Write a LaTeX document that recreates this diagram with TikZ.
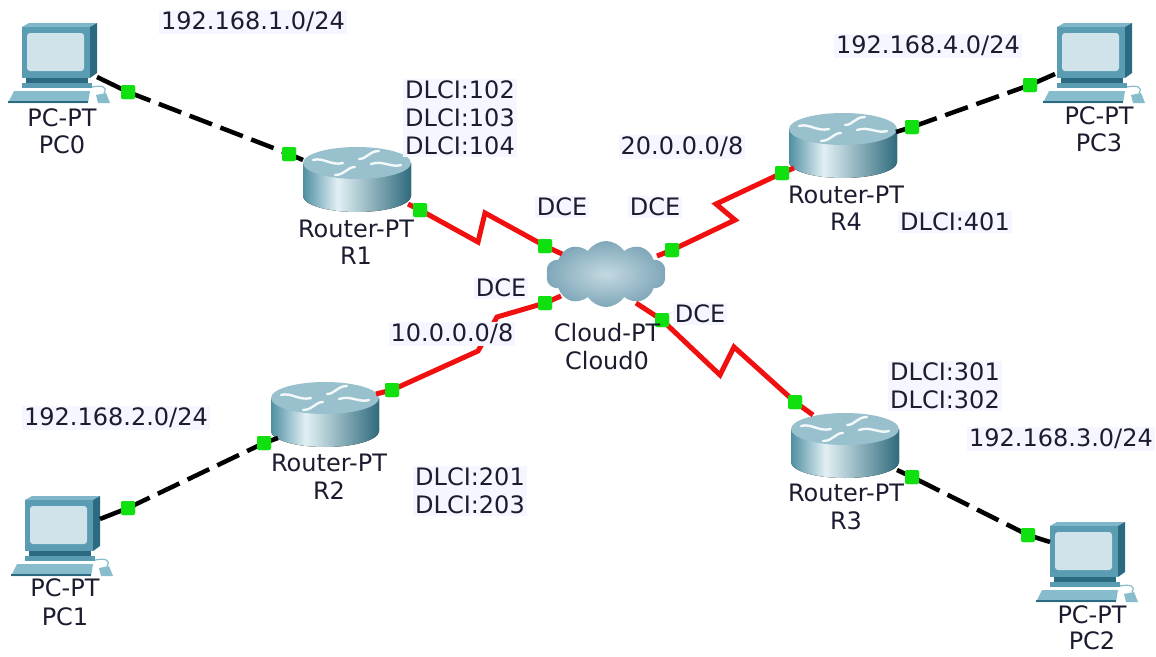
\documentclass[tikz,border=0pt]{standalone}
\usepackage{fontspec}
\setmainfont{DejaVu Sans}
\usetikzlibrary{shapes.symbols}
\definecolor{txtc}{HTML}{1C1C30}
\definecolor{notebg}{HTML}{F5F6FF}
\definecolor{portg}{HTML}{10E010}
\definecolor{serred}{HTML}{F01010}
\definecolor{rb1}{HTML}{4F8FA2}
\definecolor{rb2}{HTML}{E2F0F4}
\definecolor{rb3}{HTML}{2F6B7D}
\definecolor{rtop}{HTML}{98C1CD}
\definecolor{pcfront}{HTML}{5A9CB2}
\definecolor{pcside}{HTML}{2B6A80}
\definecolor{pctop}{HTML}{80B7C8}
\definecolor{pcscreen}{HTML}{D0E3EB}
\definecolor{pckey}{HTML}{86BCCC}
\definecolor{cloudin}{HTML}{C4D9E1}
\definecolor{cloudout}{HTML}{7FA7B9}
\pgfdeclarehorizontalshading{rbody}{100bp}{color(0bp)=(rb1); color(25bp)=(rb1); color(41bp)=(rb2); color(75bp)=(rb3); color(100bp)=(rb3)}
\newcommand\lblf{\fontsize{24}{28}\selectfont}
\tikzset{
  lbl/.style={font=\lblf, text=txtc, inner sep=1pt},
  note/.style={lbl, fill=notebg, inner sep=2pt},
  port/.style={fill=portg, minimum size=14pt, inner sep=0pt, rounded corners=2pt},
  eth/.style={line width=4.5pt, black},
  ethd/.style={eth, dash pattern=on 24pt off 9pt},
  ser/.style={line width=5pt, serred, line join=miter},
  rarrow/.style={draw=white!88!rtop, line width=2.4pt, line cap=round},
  router/.pic={
    \fill[shading=rbody] (-54,0) -- (-54,33) arc[start angle=180, end angle=360, x radius=54pt, y radius=16pt] -- (54,0) -- cycle;
    \fill[rtop] (0,0) ellipse[x radius=54pt, y radius=16pt];
    \draw[rarrow] (-44,-3) .. controls (-34,-6) and (-26,3) .. (-14,0);
    \draw[rarrow] (14,1) .. controls (26,-3) and (34,5) .. (44,2);
    \draw[rarrow] (22,-12) .. controls (12,-12) and (10,-4) .. (2,-4);
    \draw[rarrow] (-22,12) .. controls (-12,12) and (-10,4) .. (-2,4);
  },
  pc/.pic={
    \fill[pctop] (0,0) -- (7,-4) -- (75,-4) -- (68,0) -- cycle;
    \fill[pcside] (68,0) -- (75,-4) -- (75,46) -- (68,51) -- cycle;
    \fill[pcfront] (0,0) rectangle (68,51);
    \fill[pcscreen, rounded corners=3pt] (5,6) rectangle (62,44);
    \fill[pcside] (4,51) rectangle (66,56);
    \fill[pcfront] (0,56) rectangle (70,61);
    \fill[pckey] (-8,64) -- (68,64) -- (66,76) -- (-14,76) -- cycle;
    \fill[pcside] (-14,74) -- (66,74) -- (66,76) -- (-14,76) -- cycle;
    \draw[pckey, line width=1.2pt] (82,66) .. controls (86,60) and (80,58) .. (70,60);
    \fill[pckey] (74,68) -- (84,66) -- (88,76) -- (76,76) -- cycle;
  }
}
\begin{document}
\begin{tikzpicture}[x=1pt, y=-1pt]
\useasboundingbox[fill=white] (0,0) rectangle (1156,656);

% devices
\pic at (22,27) {pc};
\pic at (1057,27) {pc};
\pic at (25,500) {pc};
\pic at (1050,526) {pc};
\pic at (357,163) {router};
\pic at (843,129) {router};
\pic at (325,398) {router};
\pic at (845,429) {router};
\node[cloud, cloud puffs=10, cloud puff arc=115, aspect=1.8, minimum width=120pt, minimum height=66pt, inner sep=0pt, inner color=cloudin, outer color=cloudout] (cloud) at (606,274) {};

% attach points
\coordinate (pc0a) at (97,77);
\coordinate (pc3a) at (1055,74);
\coordinate (pc1a) at (100,519);
\coordinate (pc2a) at (1050,542);
\coordinate (r1e) at (303,160);
\coordinate (r1s) at (408,204);
\coordinate (r4s) at (794,168);
\coordinate (r4e) at (896,132);
\coordinate (r2e) at (278,438);
\coordinate (r2s) at (376,394);
\coordinate (r3s) at (813,415);
\coordinate (r3e) at (897,470);
\coordinate (cl1) at (562,254);
\coordinate (cl4) at (657,256);
\coordinate (cl2) at (561,296);
\coordinate (cl3) at (636,303);
% zigzag bends
\coordinate (z1a) at (478,242); \coordinate (z1b) at (485,213);
\coordinate (z4a) at (735,220); \coordinate (z4b) at (716,204);
\coordinate (z2a) at (478,351); \coordinate (z2b) at (497,317);
\coordinate (z3a) at (720,375); \coordinate (z3b) at (734,347);

% ports
\node[port] (gpc0) at (128,92) {};
\node[port] (gr1e) at (289,154) {};
\node[port] (gr1s) at (420,210) {};
\node[port] (gc1) at (545,246) {};
\node[port] (gc4) at (672,250) {};
\node[port] (gc2) at (545,303) {};
\node[port] (gc3) at (662,320) {};
\node[port] (gr4s) at (782,173) {};
\node[port] (gr4e) at (912,127) {};
\node[port] (gpc3) at (1030,85) {};
\node[port] (gr2e) at (264,443) {};
\node[port] (gr2s) at (392,390) {};
\node[port] (gpc1) at (128,508) {};
\node[port] (gr3s) at (795,402) {};
\node[port] (gr3e) at (912,477) {};
\node[port] (gpc2) at (1028,535) {};

% cables
\draw[eth] (pc0a) -- (gpc0.center);
\draw[ethd] (gpc0.center) -- (gr1e.center);
\draw[eth] (gr1e.center) -- (r1e);
\draw[eth] (pc3a) -- (gpc3.center);
\draw[ethd] (gpc3.center) -- (gr4e.center);
\draw[eth] (gr4e.center) -- (r4e);
\draw[eth] (pc1a) -- (gpc1.center);
\draw[ethd] (gpc1.center) -- (gr2e.center);
\draw[eth] (gr2e.center) -- (r2e);
\draw[eth] (pc2a) -- (gpc2.center);
\draw[ethd] (gpc2.center) -- (gr3e.center);
\draw[eth] (gr3e.center) -- (r3e);
\draw[ser] (r1s) -- (gr1s.center) -- (z1a) -- (z1b) -- (gc1.center) -- (cl1);
\draw[ser] (cl4) -- (gc4.center) -- (z4a) -- (z4b) -- (gr4s.center) -- (r4s);
\draw[ser] (r2s) -- (gr2s.center) -- (z2a) -- (z2b) -- (gc2.center) -- (cl2);
\draw[ser] (cl3) -- (gc3.center) -- (z3a) -- (z3b) -- (gr3s.center) -- (r3s);

% ports on top of the cables
\foreach \p in {gpc0,gr1e,gr1s,gc1,gc4,gc2,gc3,gr4s,gr4e,gpc3,gr2e,gr2s,gpc1,gr3s,gr3e,gpc2}
  \fill[portg, rounded corners=2pt] ([xshift=-7pt,yshift=-7pt]\p.center) rectangle ([xshift=7pt,yshift=7pt]\p.center);

% device labels
\node[lbl] (l0a) at (62,118) {PC-PT};
\node[lbl] (l0b) at (62,145) {PC0};
\node[lbl] (l3a) at (1099,116) {PC-PT};
\node[lbl] (l3b) at (1099,143) {PC3};
\node[lbl] (l1a) at (65,588) {PC-PT};
\node[lbl] (l1b) at (65,617) {PC1};
\node[lbl] (l2a) at (1092,615) {PC-PT};
\node[lbl] (l2b) at (1092,641) {PC2};
\node[lbl] (r1a) at (356,229) {Router-PT};
\node[lbl] (r1b) at (356,256) {R1};
\node[lbl] (r4a) at (846,195) {Router-PT};
\node[lbl] (r4b) at (846,222) {R4};
\node[lbl] (r2a) at (329,463) {Router-PT};
\node[lbl] (r2b) at (329,491) {R2};
\node[lbl] (r3a) at (846,493) {Router-PT};
\node[lbl] (r3b) at (846,521) {R3};
\node[lbl] (cla) at (607,333) {Cloud-PT};
\node[lbl] (clb) at (607,361) {Cloud0};

% notes
\node[note] (n1) at (253,22) {192.168.1.0/24};
\node[note] (n4) at (928,46) {192.168.4.0/24};
\node[note] (n2) at (116,418) {192.168.2.0/24};
\node[note] (n3) at (1061,439) {192.168.3.0/24};
\node[note, align=left, anchor=west] (d1) at (403,118) {DLCI:102\\DLCI:103\\DLCI:104};
\node[note, anchor=west] (d4) at (898,222) {DLCI:401};
\node[note, align=left, anchor=west] (d2) at (413,491) {DLCI:201\\DLCI:203};
\node[note, align=left, anchor=west] (d3) at (888,386) {DLCI:301\\DLCI:302};
\node[note] (ip20) at (682,147) {20.0.0.0/8};
\node[note] (ip10) at (452,334) {10.0.0.0/8};
\node[note] (dce1) at (562,207) {DCE};
\node[note] (dce4) at (655,207) {DCE};
\node[note] (dce2) at (501,288) {DCE};
\node[note] (dce3) at (700,314) {DCE};
\end{tikzpicture}
\end{document}
